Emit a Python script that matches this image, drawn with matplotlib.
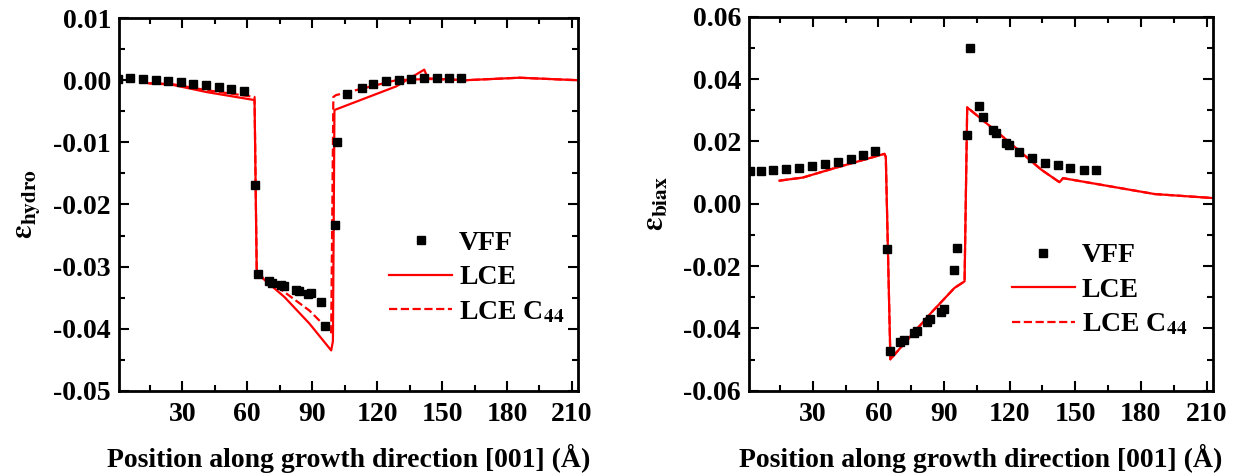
import matplotlib
matplotlib.use("Agg")
import matplotlib.pyplot as plt
from matplotlib.ticker import MultipleLocator, FuncFormatter

plt.rcParams['font.family'] = ['Liberation Serif', 'DejaVu Serif']
plt.rcParams['font.weight'] = 'bold'
plt.rcParams['mathtext.fontset'] = 'stix'
plt.rcParams['axes.unicode_minus'] = False

# ---- left panel: hydrostatic strain ----
vff_x_h = [0.5, 6.0, 11.8, 17.7, 23.4, 29.2, 35.2, 41.1, 46.8, 52.6, 58.4,
           63.5, 65.2, 70.0, 71.4, 75.7, 76.9, 82.6, 83.8, 88.1, 89.4, 94.3, 95.8,
           100.4, 101.7, 106.0, 112.9, 118.3, 124.2, 130.0, 135.7, 141.5, 147.5, 153.4, 158.8]
vff_y_h = [0.0002, 0.0003, 0.0002, 0.0, -0.0002, -0.0003, -0.00055, -0.00075, -0.0011, -0.0014, -0.0018,
           -0.0168, -0.0312, -0.0324, -0.0326, -0.0330, -0.0331, -0.0337, -0.0339, -0.0344, -0.0343, -0.0357, -0.0396,
           -0.0233, -0.0099, -0.0023, -0.0013, -0.00065, -0.0002, 0.0001, 0.0002, 0.00037, 0.00043, 0.00043, 0.00037]

lce_x_h = [14.6, 24.9, 41.1, 63.4, 64.4, 65.2, 77.2, 88.8, 98.8, 99.6, 100.3, 128.8, 141.8, 143.4, 161.0, 185.7, 212.5]
lce_y_h = [-0.0005, -0.0007, -0.0019, -0.0032, -0.0305, -0.0313, -0.0349, -0.0392, -0.0435, -0.0420, -0.0048,
           -0.0010, 0.0017, 0.0003, 0.0, 0.0004, 0.0]

c44_x_h = [14.6, 24.9, 41.1, 63.4, 64.4, 65.2, 76.4, 88.8, 98.8, 99.8, 101.0, 128.8, 143.4, 161.0, 185.7, 212.5]
c44_y_h = [-0.0005, -0.0006, -0.0016, -0.0027, -0.0305, -0.0313, -0.0339, -0.0371, -0.0406, -0.0027,
           -0.0024, 0.0, 0.0002, 0.0, 0.0004, 0.0]

# ---- right panel: biaxial strain ----
vff_x_b = [1.5, 6.4, 11.8, 17.8, 23.9, 29.6, 35.4, 41.5, 47.6, 52.9, 58.5,
           64.0, 65.5, 70.1, 71.7, 76.2, 77.7, 82.3, 83.8, 88.4, 89.9, 94.5, 96.0,
           100.6, 102.1, 106.2, 107.8, 112.4, 113.9, 118.4, 119.5, 124.3, 130.3, 136.0, 142.1, 147.8, 153.8, 159.6]
vff_y_b = [0.0106, 0.0106, 0.0107, 0.0111, 0.0116, 0.0122, 0.0128, 0.0134, 0.0143, 0.0155, 0.0170,
           -0.0145, -0.0473, -0.0443, -0.0438, -0.0414, -0.0409, -0.0379, -0.0371, -0.0348, -0.0339, -0.0214, -0.0142,
           0.0221, 0.0498, 0.0314, 0.0279, 0.0237, 0.0226, 0.0196, 0.0187, 0.0167, 0.0148, 0.0132, 0.0123, 0.0114, 0.0109, 0.0107]

lce_x_b = [14.8, 25.5, 39.9, 62.8, 63.4, 65.5, 84.1, 94.8, 99.4, 100.6, 117.7, 134.5, 142.8, 144.4, 186.3, 213.4]
lce_y_b = [0.0074, 0.0084, 0.0114, 0.0160, 0.0150, -0.0499, -0.0350, -0.0270, -0.0249, 0.0309,
           0.0210, 0.0109, 0.0069, 0.0082, 0.0031, 0.0018]

c44_x_b = lce_x_b
c44_y_b = lce_y_b

xlabel = "Position along growth direction [001] (Å)"
red = '#ff0000'


def fmt(v, pos):
    if abs(v) < 1e-9:
        return '0.00'
    return f'{v:.2f}'


fig = plt.figure(figsize=(12.43, 4.76), dpi=100)
ax1 = fig.add_axes([0.0961, 0.179, 0.3689, 0.783])
ax2 = fig.add_axes([0.6028, 0.179, 0.3728, 0.786])

panels = [
    (ax1, vff_x_h, vff_y_h, lce_x_h, lce_y_h, c44_x_h, c44_y_h, (-0.05, 0.01), 0.01, 0.005,
     r'$\mathrm{\varepsilon}_{\mathbf{hydro}}$', (0.588, 0.43), -0.17),
    (ax2, vff_x_b, vff_y_b, lce_x_b, lce_y_b, c44_x_b, c44_y_b, (-0.06, 0.06), 0.02, 0.01,
     r'$\mathrm{\varepsilon}_{\mathbf{biax}}$', (0.566, 0.395), -0.169),
]

for ax, vx, vy, lx, ly, cx, cy, ylim, ymaj, ymin, ylab, legpos, ylx in panels:
    ax.plot(vx, vy, 's', color='black', markersize=5.5, label='VFF', zorder=3)
    ax.plot(lx, ly, '-', color=red, lw=1.6, label='LCE')
    ax.plot(cx, cy, '--', color=red, lw=1.6, label=r'LCE C$_{\mathbf{44}}$')
    ax.set_xlim(1, 212.8)
    ax.set_ylim(*ylim)
    ax.xaxis.set_major_locator(MultipleLocator(30))
    ax.xaxis.set_minor_locator(MultipleLocator(15))
    ax.yaxis.set_major_locator(MultipleLocator(ymaj))
    ax.yaxis.set_minor_locator(MultipleLocator(ymin))
    ax.yaxis.set_major_formatter(FuncFormatter(fmt))
    ax.tick_params(which='both', direction='in', top=True, right=True, width=1.5, labelsize=20)
    ax.tick_params(which='major', length=7)
    ax.tick_params(which='minor', length=4)
    for lab in ax.get_xticklabels() + ax.get_yticklabels():
        lab.set_fontweight('bold')
    for s in ax.spines.values():
        s.set_linewidth(2)
    ax.tick_params(axis='x', pad=8)
    ax.tick_params(axis='y', pad=6)
    ax.set_xlabel(xlabel, fontsize=20, fontweight='bold', labelpad=12)
    ax.set_ylabel(ylab, fontsize=22)
    ax.yaxis.set_label_coords(ylx, 0.5)
    ax.legend(loc='upper left', bbox_to_anchor=legpos, frameon=False,
              handlelength=2.27, handletextpad=0.25, labelspacing=0.32, borderpad=0,
              borderaxespad=0, prop={'weight': 'bold', 'size': 20})

fig.savefig('out.png', dpi=100)
